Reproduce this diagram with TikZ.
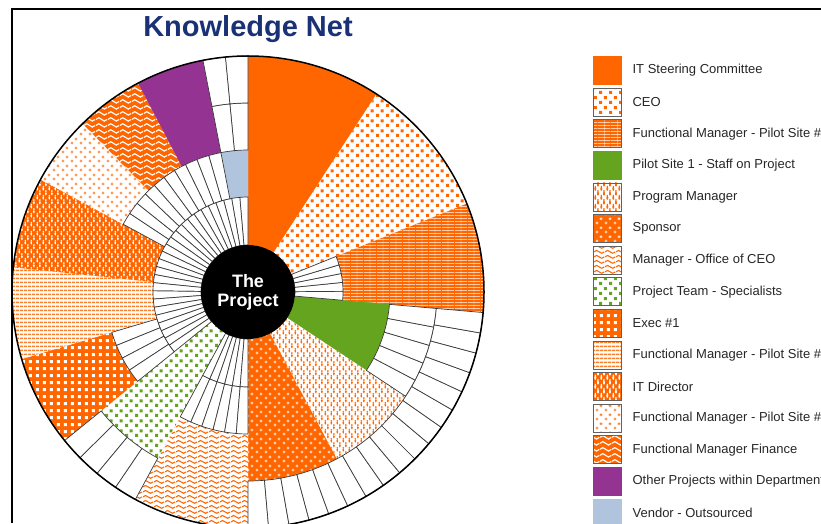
\documentclass[tikz,border=0pt]{standalone}
\usepackage{fontspec}
\setmainfont{Liberation Sans}
\usetikzlibrary{patterns,positioning}

\definecolor{knorange}{HTML}{FF6600}
\definecolor{kngreen}{HTML}{65A41F}
\definecolor{knpurple}{HTML}{943392}
\definecolor{knblue}{HTML}{B0C4DE}
\definecolor{kntitle}{HTML}{1A3275}
\definecolor{kncell}{HTML}{3A3A3A}

% fill patterns
\pgfdeclarepatternformonly{kndots}{\pgfpointorigin}{\pgfpoint{9.5pt}{9.5pt}}{\pgfpoint{9.5pt}{9.5pt}}{%
  \pgfpathrectangle{\pgfpoint{0.2pt}{0.2pt}}{\pgfpoint{3pt}{3pt}}%
  \pgfpathrectangle{\pgfpoint{4.95pt}{4.95pt}}{\pgfpoint{3pt}{3pt}}%
  \pgfusepath{fill}}
\pgfdeclarepatternformonly{knsquares}{\pgfpointorigin}{\pgfpoint{6.8pt}{6.8pt}}{\pgfpoint{6.8pt}{6.8pt}}{%
  \pgfpathrectangle{\pgfpoint{1.9pt}{1.9pt}}{\pgfpoint{3pt}{3pt}}%
  \pgfusepath{fill}}
\pgfdeclarepatternformonly{knfigures}{\pgfpointorigin}{\pgfpoint{6pt}{9pt}}{\pgfpoint{6pt}{9pt}}{%
  \pgfpathellipse{\pgfpoint{1.5pt}{2.4pt}}{\pgfpoint{1.1pt}{0pt}}{\pgfpoint{0pt}{2.2pt}}%
  \pgfpathcircle{\pgfpoint{1.5pt}{4.9pt}}{0.85pt}%
  \pgfpathellipse{\pgfpoint{4.5pt}{6.9pt}}{\pgfpoint{1.1pt}{0pt}}{\pgfpoint{0pt}{2.2pt}}%
  \pgfpathcircle{\pgfpoint{4.5pt}{0.4pt}}{0.85pt}%
  \pgfpathcircle{\pgfpoint{4.5pt}{9.4pt}}{0.85pt}%
  \pgfusepath{fill}}
\pgfdeclarepatternformonly{knplus}{\pgfpointorigin}{\pgfpoint{8.5pt}{8.5pt}}{\pgfpoint{8.5pt}{8.5pt}}{%
  \pgfsetlinewidth{0.9pt}%
  \pgfpathmoveto{\pgfpoint{0.7pt}{2.1pt}}\pgfpathlineto{\pgfpoint{3.5pt}{2.1pt}}%
  \pgfpathmoveto{\pgfpoint{2.1pt}{0.7pt}}\pgfpathlineto{\pgfpoint{2.1pt}{3.5pt}}%
  \pgfpathmoveto{\pgfpoint{4.95pt}{6.35pt}}\pgfpathlineto{\pgfpoint{7.75pt}{6.35pt}}%
  \pgfpathmoveto{\pgfpoint{6.35pt}{4.95pt}}\pgfpathlineto{\pgfpoint{6.35pt}{7.75pt}}%
  \pgfusepath{stroke}}
\pgfdeclarepatternformonly{knwaves}{\pgfpointorigin}{\pgfpoint{11pt}{5pt}}{\pgfpoint{11pt}{5pt}}{%
  \pgfsetlinewidth{1.2pt}%
  \pgfpathmoveto{\pgfpoint{0pt}{2.5pt}}%
  \pgfpathcurveto{\pgfpoint{1.9pt}{4.7pt}}{\pgfpoint{3.6pt}{4.7pt}}{\pgfpoint{5.5pt}{2.5pt}}%
  \pgfpathcurveto{\pgfpoint{7.4pt}{0.3pt}}{\pgfpoint{9.1pt}{0.3pt}}{\pgfpoint{11pt}{2.5pt}}%
  \pgfusepath{stroke}}
\pgfdeclarepatternformonly{knbigwaves}{\pgfpointorigin}{\pgfpoint{12pt}{6pt}}{\pgfpoint{12pt}{6pt}}{%
  \pgfsetlinewidth{1.3pt}%
  \pgfpathmoveto{\pgfpoint{0pt}{3pt}}%
  \pgfpathcurveto{\pgfpoint{2.1pt}{5.6pt}}{\pgfpoint{3.9pt}{5.6pt}}{\pgfpoint{6pt}{3pt}}%
  \pgfpathcurveto{\pgfpoint{8.1pt}{0.4pt}}{\pgfpoint{9.9pt}{0.4pt}}{\pgfpoint{12pt}{3pt}}%
  \pgfusepath{stroke}}
\pgfdeclarepatternformonly{knhlines}{\pgfpointorigin}{\pgfpoint{4pt}{4pt}}{\pgfpoint{4pt}{4pt}}{%
  \pgfsetlinewidth{1.7pt}%
  \pgfpathmoveto{\pgfpoint{0pt}{2pt}}\pgfpathlineto{\pgfpoint{4pt}{2pt}}%
  \pgfusepath{stroke}}
\pgfdeclarepatternformonly{knhgrid}{\pgfpointorigin}{\pgfpoint{13pt}{3.3pt}}{\pgfpoint{13pt}{3.3pt}}{%
  \pgfsetlinewidth{0.8pt}%
  \pgfpathmoveto{\pgfpoint{0pt}{1.65pt}}\pgfpathlineto{\pgfpoint{13pt}{1.65pt}}%
  \pgfusepath{stroke}%
  \pgfsetlinewidth{0.3pt}%
  \pgfpathmoveto{\pgfpoint{6.5pt}{0pt}}\pgfpathlineto{\pgfpoint{6.5pt}{3.3pt}}%
  \pgfusepath{stroke}}

\tikzset{
  cell/.style={fill=white, draw=kncell, line width=0.7pt},
  itsteer/.style={fill=knorange, draw=knorange},
  ceo/.style={preaction={fill=white}, pattern=kndots, pattern color=knorange},
  fmone/.style={preaction={fill=knorange}, pattern=knhgrid, pattern color=white},
  pilot/.style={fill=kngreen, draw=kngreen},
  progman/.style={preaction={fill=white}, pattern=knfigures, pattern color=knorange},
  sponsor/.style={preaction={fill=knorange}, pattern=knplus, pattern color=white},
  mgroffice/.style={preaction={fill=white}, pattern=knwaves, pattern color=knorange},
  specialists/.style={preaction={fill=white}, pattern=kndots, pattern color=kngreen},
  execone/.style={preaction={fill=knorange}, pattern=knsquares, pattern color=white},
  fmtwo/.style={preaction={fill=white}, pattern=knhlines, pattern color=knorange!85},
  itdir/.style={preaction={fill=knorange}, pattern=knfigures, pattern color=white},
  fmthree/.style={preaction={fill=white}, pattern=knplus, pattern color=knorange},
  fmfin/.style={preaction={fill=knorange}, pattern=knbigwaves, pattern color=white},
  otherproj/.style={fill=knpurple, draw=knpurple},
  vendor/.style={fill=knblue, draw=knblue},
  hub/.style={circle, fill=black, minimum size=94pt, inner sep=0pt, text=white, align=center,
    font=\bfseries\fontsize{18}{19}\selectfont},
  legbox/.style={minimum size=28pt, inner sep=0pt, draw=kncell!80, line width=0.8pt},
  legtext/.style={inner sep=0pt, font=\fontsize{13}{15}\selectfont, text=black!85}
}

\begin{document}
\begin{tikzpicture}[x=1pt,y=1pt]
\useasboundingbox (0,0) rectangle (821,523);
\draw[line width=2pt] (11.5,0) -- (11.5,514) -- (821,514);
\node[font=\bfseries\fontsize{29}{34}\selectfont, text=kntitle, anchor=base] (title) at (248,486) {Knowledge Net};

\begin{scope}[shift={(248,231)}]
% big wedges
\foreach \a/\b/\ri/\ro/\s in {57/90/47/236/itsteer, 22/57/47/236/ceo, -5/22/95/236/fmone,
  -33.5/-5/47/142/pilot, -62/-33.5/47/189/progman, -90/-62/47/189/sponsor,
  -118.5/-90/142/236/mgroffice, -141/-118.5/47/189/specialists, -163.5/-141/142/236/execone,
  174/196.5/95/236/fmtwo, 151.5/174/95/236/itdir, 134.5/151.5/142/236/fmthree,
  117.7/134.5/142/236/fmfin, 101/117.7/142/236/otherproj, 90/101/95/142/vendor}
  \path[\s] (\a:\ri) arc[start angle=\a, end angle=\b, radius=\ri] -- (\b:\ro)
    arc[start angle=\b, end angle=\a, radius=\ro] -- cycle;
% white cells
\foreach \ri/\ro/\a/\b/\n in {47/95/-5/22/5, 47/95/90/219/26, 47/95/241.5/270/6,
  95/142/101/151.5/10, 95/142/196.5/219/4, 95/142/241.5/270/6,
  142/189/90/101/2, 142/189/326.5/355/5,
  189/236/90/101/2, 189/236/219/241.5/4, 189/236/270/355/17}{
  \pgfmathsetmacro{\w}{(\b-\a)/\n}
  \foreach \k in {1,...,\n}{
    \pgfmathsetmacro{\c}{\a+(\k-1)*\w}
    \pgfmathsetmacro{\d}{\a+\k*\w}
    \draw[cell] (\c:\ri) arc[start angle=\c, end angle=\d, radius=\ri] -- (\d:\ro)
      arc[start angle=\d, end angle=\c, radius=\ro] -- cycle;
  }
}
\draw[line width=1.5pt] (0,0) circle[radius=236];
\node[hub] (hub) at (0,0) {The\\Project};
\end{scope}

% legend
\foreach \s/\t [count=\i] in {itsteer/IT Steering Committee, ceo/CEO,
  fmone/Functional Manager - Pilot Site \#, pilot/Pilot Site 1 - Staff on Project,
  progman/Program Manager, sponsor/Sponsor, mgroffice/Manager - Office of CEO,
  specialists/Project Team - Specialists, execone/Exec \#1,
  fmtwo/Functional Manager - Pilot Site \#, itdir/IT Director,
  fmthree/Functional Manager - Pilot Site \#, fmfin/Functional Manager Finance,
  otherproj/Other Projects within Department, vendor/Vendor - Outsourced}{
  \node[legbox,\s] (box\i) at (607,{452.5-(\i-1)*31.6}) {};
  \node[legtext, right=11pt of box\i] (lab\i) {\t};
}
\end{tikzpicture}
\end{document}
